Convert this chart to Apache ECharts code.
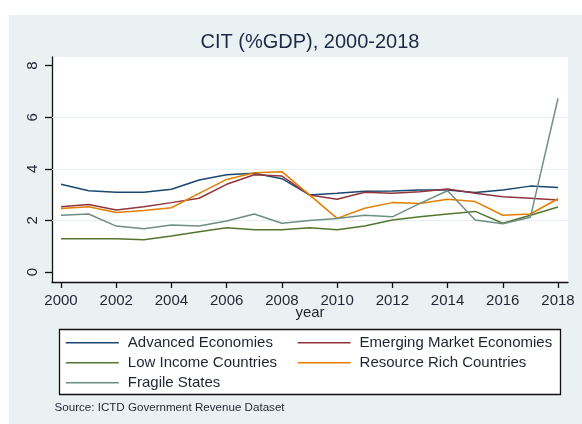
<!DOCTYPE html>
<html>
<head>
<meta charset="utf-8">
<script src="https://cdn.jsdelivr.net/npm/echarts@6/dist/echarts.min.js"></script>
<style>
  html, body { margin: 0; padding: 0; background: #fff; }
  #main { width: 582px; height: 424px; }
</style>
</head>
<body>
<div id="main"></div>
<script>
// data
var years = [2000, 2001, 2002, 2003, 2004, 2005, 2006, 2007, 2008, 2009,
             2010, 2011, 2012, 2013, 2014, 2015, 2016, 2017, 2018];
var advanced = [3.40, 3.15, 3.09, 3.09, 3.21, 3.57, 3.77, 3.83, 3.62, 2.99,
                3.05, 3.13, 3.14, 3.18, 3.18, 3.08, 3.18, 3.33, 3.28];
var emerging = [2.53, 2.62, 2.40, 2.53, 2.69, 2.86, 3.40, 3.77, 3.72, 2.99,
                2.82, 3.09, 3.05, 3.11, 3.22, 3.05, 2.92, 2.86, 2.79];
var lowIncome = [1.29, 1.29, 1.29, 1.25, 1.40, 1.56, 1.72, 1.64, 1.64, 1.72,
                 1.64, 1.78, 2.02, 2.14, 2.25, 2.35, 1.89, 2.20, 2.52];
var resourceRich = [2.46, 2.53, 2.31, 2.38, 2.49, 3.05, 3.59, 3.85, 3.89, 2.99,
                    2.08, 2.47, 2.69, 2.66, 2.82, 2.73, 2.20, 2.25, 2.84];
var fragile = [2.20, 2.25, 1.78, 1.68, 1.82, 1.78, 1.98, 2.25, 1.89, 2.00,
               2.07, 2.20, 2.14, 2.66, 3.15, 2.02, 1.87, 2.12, 6.73];

var xTicks = [2000, 2002, 2004, 2006, 2008, 2010, 2012, 2014, 2016, 2018];
var yTicks = [0, 2, 4, 6, 8];
var gridValues = [2, 4, 6];

var seriesNames = ['Advanced Economies', 'Emerging Market Economies', 'Low Income Countries',
                   'Resource Rich Countries', 'Fragile States'];
var seriesValues = [advanced, emerging, lowIncome, resourceRich, fragile];
var colors = ['#1a476f', '#90353b', '#55752f', '#e37e00', '#6e8e84'];

var FONT = '"Liberation Sans", Arial, sans-serif';
var TEXT = '#1d2535';

var chart = echarts.init(document.getElementById('main'));

function pairs(values) {
    return years.map(function (y, i) { return [y, values[i]]; });
}

var series = seriesNames.map(function (name, i) {
    var s = {
        name: name,
        type: 'line',
        data: pairs(seriesValues[i]),
        showSymbol: false,
        symbol: 'none',
        lineStyle: { width: 1.5, color: colors[i] },
        itemStyle: { color: colors[i] },
        z: 3 + i
    };
    if (i === 0) {
        s.markLine = {
            silent: true,
            symbol: 'none',
            label: { show: false },
            lineStyle: { color: '#e6eff1', width: 1.2, type: 'solid' },
            data: gridValues.map(function (v) { return { yAxis: v }; }),
            z: 1
        };
    }
    return s;
});

var legendCommon = {
    orient: 'vertical',
    icon: 'rect',
    itemWidth: 53,
    itemHeight: 1.5,
    itemGap: 0,
    selectedMode: false,
    padding: 0,
    textStyle: {
        fontFamily: FONT,
        fontSize: 15,
        color: TEXT,
        lineHeight: 20,
        padding: [0, 0, 0, 4]
    }
};

var option = {
    animation: false,
    backgroundColor: '#ffffff',
    graphic: [
        {
            type: 'rect', z: -10, silent: true,
            shape: { x: 8.7, y: 15, width: 582 - 8.7, height: 424 - 15 },
            style: { fill: '#eaf1f3' }
        },
        {
            type: 'rect', z: 0, silent: true,
            shape: { x: 59.5, y: 329.5, width: 501, height: 65 },
            style: { fill: '#ffffff', stroke: '#111111', lineWidth: 1.3 }
        },
        {
            type: 'text', silent: true,
            x: 310, y: 42.5,
            style: {
                text: 'CIT (%GDP), 2000-2018',
                fontFamily: FONT, fontSize: 20, fill: '#1c2a44',
                align: 'center', verticalAlign: 'middle'
            }
        },
        {
            type: 'text', silent: true,
            x: 310, y: 313,
            style: {
                text: 'year',
                fontFamily: FONT, fontSize: 15, fill: TEXT,
                align: 'center', verticalAlign: 'middle'
            }
        },
        {
            type: 'text', silent: true,
            x: 54.5, y: 408,
            style: {
                text: 'Source: ICTD Government Revenue Dataset',
                fontFamily: FONT, fontSize: 11.6, fill: TEXT,
                align: 'left', verticalAlign: 'middle'
            }
        }
    ],
    grid: {
        left: 52, right: 14, top: 57, bottom: 142,
        show: true,
        backgroundColor: '#ffffff',
        borderWidth: 0
    },
    xAxis: {
        type: 'value',
        min: 1999.674,
        max: 2018.362,
        axisLine: { show: true, onZero: false, lineStyle: { color: '#111', width: 1.3 } },
        axisTick: { show: true, length: 6, customValues: xTicks, lineStyle: { color: '#111', width: 1.3 } },
        axisLabel: {
            customValues: xTicks,
            margin: 11,
            fontFamily: FONT, fontSize: 15, color: TEXT,
            formatter: function (v) { return String(Math.round(v)); }
        },
        splitLine: { show: false }
    },
    yAxis: {
        type: 'value',
        min: -0.388,
        max: 8.337,
        axisLine: { show: true, onZero: false, lineStyle: { color: '#111', width: 1.3 } },
        axisTick: { show: true, length: 7, customValues: yTicks, lineStyle: { color: '#111', width: 1.3 } },
        axisLabel: {
            customValues: yTicks,
            rotate: 90,
            margin: 12,
            fontFamily: FONT, fontSize: 15, color: TEXT
        },
        splitLine: { show: false }
    },
    legend: [
        Object.assign({}, legendCommon, {
            left: 65.8, top: 332.7,
            data: [seriesNames[0], seriesNames[2], seriesNames[4]]
        }),
        Object.assign({}, legendCommon, {
            left: 297.6, top: 332.7,
            data: [seriesNames[1], seriesNames[3]]
        })
    ],
    series: series
};

chart.setOption(option);
</script>
</body>
</html>
